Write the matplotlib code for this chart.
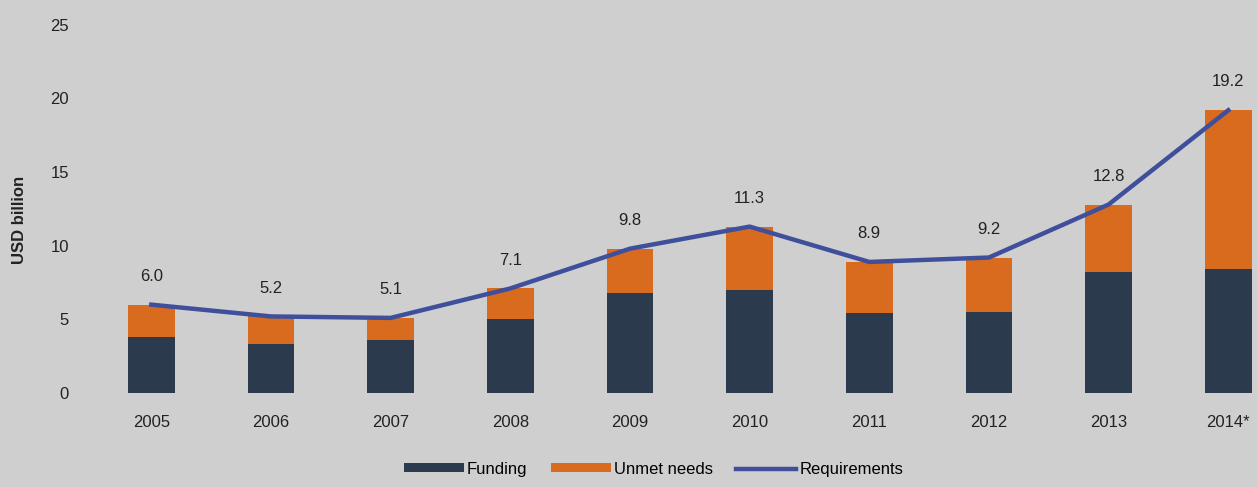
import numpy as np
import matplotlib
matplotlib.use('Agg')
from matplotlib import pyplot as plt
from matplotlib import font_manager

# a narrow face looks closer to the original, use one if it is there
names = set(f.name for f in font_manager.fontManager.ttflist)
fams = [n for n in ['Liberation Sans Narrow', 'DejaVu Sans Condensed'] if n in names]
plt.rcParams['font.family'] = fams + ['Liberation Sans', 'DejaVu Sans']
plt.rcParams['font.stretch'] = 'condensed'

# data (USD billion)
years = ['2005', '2006', '2007', '2008', '2009', '2010', '2011', '2012', '2013', '2014*']
funding = [3.8, 3.3, 3.6, 5.0, 6.8, 7.0, 5.4, 5.5, 8.2, 8.4]
requirements = [6.0, 5.2, 5.1, 7.1, 9.8, 11.3, 8.9, 9.2, 12.8, 19.2]
unmet = [r - f for r, f in zip(requirements, funding)]

bg = '#cfcfcf'
navy = '#2c3a4e'
orange = '#d86b1e'
line_c = '#3f4f9c'

fig = plt.figure(figsize=(12.57, 4.87), dpi=100, facecolor=bg)
ax = fig.add_axes([0.068, 0.193, 0.932, 0.756])
ax.set_facecolor(bg)

x = np.arange(len(years))
b1 = ax.bar(x, funding, width=0.39, color=navy, label='Funding')
b2 = ax.bar(x, unmet, width=0.39, bottom=funding, color=orange, label='Unmet needs')
l1, = ax.plot(x, requirements, color=line_c, lw=3.2, label='Requirements')

# value labels over each bar
for xi, v in zip(x, requirements):
    ax.annotate('%.1f' % v, (xi, v), xytext=(0, 15), textcoords='offset points',
                ha='center', va='bottom', fontsize=12, color='#222222')

ax.set_xlim(-0.55, 9.24)
ax.set_ylim(0, 25)
ax.set_yticks([0, 5, 10, 15, 20, 25])
ax.set_xticks(x)
ax.set_xticklabels(years)
ax.tick_params(axis='both', length=0, labelsize=12, colors='#222222')
ax.tick_params(axis='x', pad=16)
ax.tick_params(axis='y', pad=12)
for s in ax.spines.values():
    s.set_visible(False)
ax.set_ylabel('USD billion', fontsize=12, fontweight='bold', color='#222222', labelpad=8)
ax.yaxis.set_label_coords(-0.05, 0.47)

fig.legend([b1, b2, l1], ['Funding', 'Unmet needs', 'Requirements'],
           loc='lower center', bbox_to_anchor=(0.52, -0.01), ncol=3, frameon=False,
           fontsize=12, handlelength=3.6, handleheight=0.45, columnspacing=1.4,
           handletextpad=0.2)

fig.savefig('out.png', dpi=100, facecolor=bg)
